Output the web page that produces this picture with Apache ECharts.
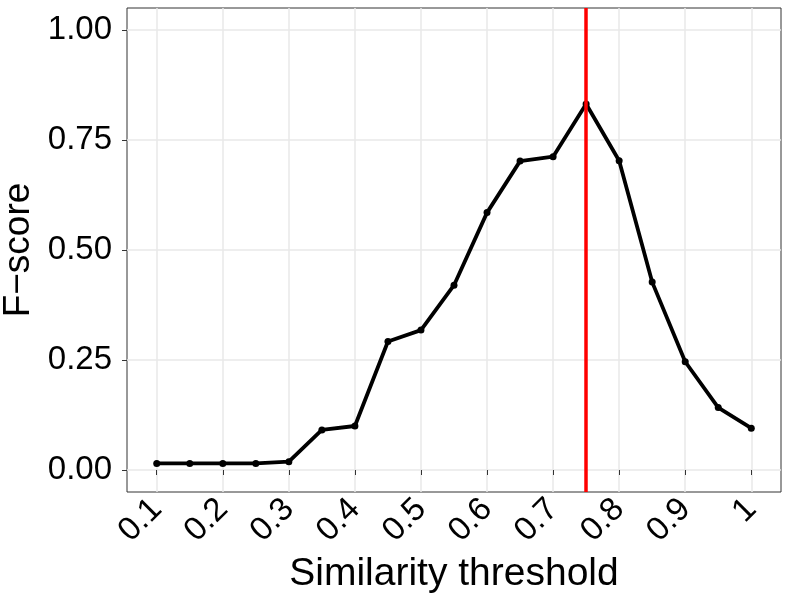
<!DOCTYPE html>
<html>
<head>
<meta charset="utf-8">
<script src="https://cdn.jsdelivr.net/npm/echarts@6/dist/echarts.min.js"></script>
<style>html,body{margin:0;padding:0;background:#fff}#c{width:789px;height:605px}</style>
</head>
<body>
<div id="c"></div>
<script>
const thresholds = [0.1,0.15,0.2,0.25,0.3,0.35,0.4,0.45,0.5,0.55,0.6,0.65,0.7,0.75,0.8,0.85,0.9,0.95,1.0];
const fscore = [0.015,0.015,0.015,0.015,0.019,0.091,0.100,0.292,0.318,0.420,0.585,0.702,0.712,0.832,0.703,0.427,0.246,0.142,0.095];
const xTicks = [0.1,0.2,0.3,0.4,0.5,0.6,0.7,0.8,0.9,1];
const yTicks = [0,0.25,0.5,0.75,1];
const bestThreshold = 0.75;

const chart = echarts.init(document.getElementById('c'), null, {renderer:'canvas'});
const font = 'Liberation Sans';
chart.setOption({
  animation: false,
  backgroundColor: '#fff',
  grid: {left:127, right:8, top:8, bottom:113, outerBoundsMode:'none', containLabel:false,
    show:true, borderColor:'#333333', borderWidth:1, backgroundColor:'#fff'},
  xAxis: {
    type:'value', min:0.055, max:1.045,
    name:'Similarity threshold', nameLocation:'middle', nameGap:61,
    nameTextStyle:{fontFamily:font, fontSize:39, color:'#000'},
    axisLine:{show:false},
    axisTick:{show:true, length:5, lineStyle:{color:'#333333', width:1}, customValues:xTicks},
    axisLabel:{customValues:xTicks, rotate:45, margin:12, fontFamily:font, fontSize:33, color:'#000',
      formatter:v=>String(v)},
    splitLine:{show:true, lineStyle:{color:'#e8e8e8', width:1.5}}
  },
  yAxis: {
    type:'value', min:-0.05, max:1.05,
    name:'F\u2212score', nameLocation:'middle', nameGap:86, nameRotate:90,
    nameTextStyle:{fontFamily:font, fontSize:37, color:'#000'},
    axisLine:{show:false},
    axisTick:{show:true, length:5, lineStyle:{color:'#333333', width:1}, customValues:yTicks},
    axisLabel:{customValues:yTicks, margin:15, fontFamily:font, fontSize:33, color:'#000',
      formatter:v=>v.toFixed(2)},
    splitLine:{show:true, lineStyle:{color:'#e8e8e8', width:1.5}}
  },
  series: [{
    type:'line',
    data: thresholds.map((t,i)=>[t, fscore[i]]),
    symbol:'circle', symbolSize:7,
    itemStyle:{color:'#000'},
    lineStyle:{color:'#000', width:3.8},
    markLine:{
      silent:true, symbol:['none','none'], label:{show:false},
      lineStyle:{color:'#ff0000', width:3.5, type:'solid'},
      data:[{xAxis:bestThreshold}]
    }
  }]
});
</script>
</body>
</html>
